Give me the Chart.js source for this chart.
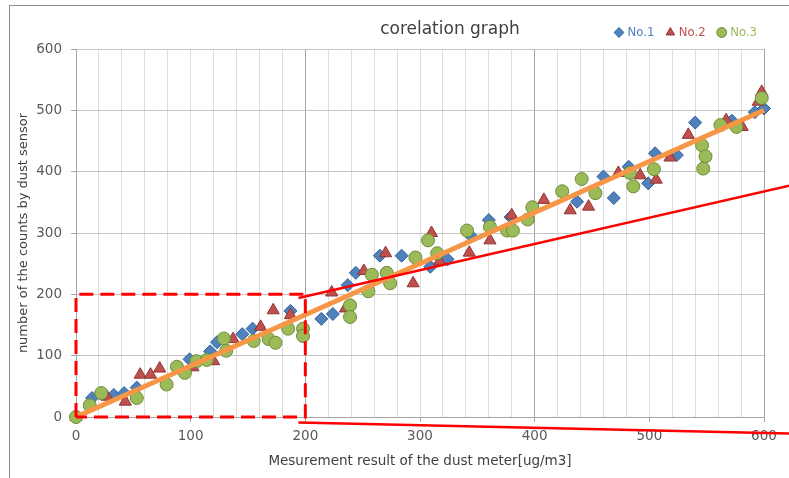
<!DOCTYPE html>
<html>
<head>
<meta charset="utf-8">
<script src="https://cdn.jsdelivr.net/npm/chart.js@4.4.0/dist/chart.umd.min.js"></script>
<style>
    html, body { margin: 0; padding: 0; background: #fff; }
    #wrap { position: relative; width: 789px; height: 478px; overflow: hidden; }
    #frame { position: absolute; left: 9px; top: 5px; width: 800px; height: 500px;
             border-left: 1px solid #8c8c8c; border-top: 1px solid #8c8c8c; }
    canvas { position: absolute; left: 0; top: 0; }
</style>
</head>
<body>
<div id="wrap">
    <div id="frame"></div>
    <canvas id="dustChart" width="789" height="478"></canvas>
</div>
<script>
// Chart texts
const chartTitle = 'corelation graph';
const xTitle = 'Mesurement result of the dust meter[ug/m3]';
const yTitle = 'number of the counts by dust sensor';
const seriesNames = ['No.1', 'No.2', 'No.3'];

// No.1 (blue diamonds)
const no1X = [14, 33, 42, 53, 99, 117, 123, 145, 154, 187, 214, 224, 237, 244, 265, 284, 309, 324, 344, 360, 379, 437, 460, 469, 482, 499, 505, 524, 540, 572, 592, 600];
const no1Y = [31, 36, 39, 48, 94, 107, 122, 135, 144, 173, 160, 168, 215, 235, 263, 263, 245, 257, 296, 321, 326, 351, 392, 357, 408, 381, 430, 427, 480, 483, 497, 503];

// No.2 (red triangles)
const no2X = [0, 27, 43, 56, 65, 73, 102, 120, 137, 161, 172, 187, 223, 235, 251, 270, 274, 294, 310, 317, 343, 361, 380, 408, 431, 447, 473, 492, 506, 518, 534, 567, 581, 595, 598];
const no2Y = [0, 33, 25, 69, 69, 79, 81, 91, 127, 147, 174, 166, 203, 177, 238, 267, 221, 218, 300, 254, 268, 288, 329, 354, 337, 343, 398, 394, 387, 423, 460, 484, 473, 514, 530];

// No.3 (green circles)
const no3X = [0, 12, 22, 53, 79, 88, 95, 105, 114, 129, 131, 155, 168, 174, 185, 198, 198, 239, 239, 255, 258, 271, 274, 296, 307, 315, 341, 361, 376, 381, 394, 398, 424, 441, 453, 483, 486, 504, 546, 549, 547, 562, 576, 598];
const no3Y = [0, 19, 39, 31, 53, 82, 72, 91, 93, 128, 108, 124, 127, 121, 144, 144, 132, 182, 163, 205, 232, 235, 218, 260, 288, 267, 304, 310, 304, 304, 322, 342, 368, 388, 365, 398, 376, 404, 443, 425, 405, 476, 473, 520];

// approximate line
const trendX = [0, 600];
const trendY = [0, 500];

// red zoom marks (dashed box 0-200 and the two lines leading out of it)
const boxX = [0, 0, 200, 200, 0];
const boxY = [0, 200, 200, 0, 0];
const zoomTopX = [194, 622];
const zoomTopY = [194, 377];
const zoomBottomX = [194, 622];
const zoomBottomY = [-9, -27];

// axis ticks
const xMin = 0, xMax = 600, xStep = 20, xLabelStep = 100, xMajorStep = 200;
const yMin = 0, yMax = 600, yStep = 100;

function toPoints(xs, ys) {
    return xs.map(function (x, i) { return {x: x, y: ys[i]}; });
}

const seriesColors = ['#4f81bd', '#c0504d', '#9bbb59'];
const seriesBorders = ['#2f5f98', '#8e3533', '#6f8a3a'];

// title sits in the legend row, a bit right of the plot centre
const titlePlugin = {
    id: 'graphTitle',
    afterDraw(chart) {
        const ctx = chart.ctx;
        ctx.save();
        ctx.font = '17px "DejaVu Sans"';
        ctx.fillStyle = '#404040';
        ctx.textAlign = 'center';
        ctx.textBaseline = 'middle';
        ctx.fillText(chartTitle, 450, 30);
        ctx.restore();
    }
};

const tickFont = {family: 'DejaVu Sans', size: 13.5};
const titleFont = {family: 'DejaVu Sans', size: 13.5};

document.addEventListener('DOMContentLoaded', function () {
    const canvas = document.getElementById('dustChart');
    new Chart(canvas, {
        type: 'scatter',
        data: {
            datasets: [{
                    label: seriesNames[0],
                    data: toPoints(no1X, no1Y),
                    pointStyle: 'rectRot',
                    pointRadius: 6.5,
                    backgroundColor: seriesColors[0],
                    borderColor: seriesBorders[0],
                    borderWidth: 1,
                    clip: false,
                    order: 4
                }, {
                    label: seriesNames[1],
                    data: toPoints(no2X, no2Y),
                    pointStyle: 'triangle',
                    pointRadius: 7,
                    backgroundColor: seriesColors[1],
                    borderColor: seriesBorders[1],
                    borderWidth: 1,
                    clip: false,
                    order: 3
                }, {
                    label: seriesNames[2],
                    data: toPoints(no3X, no3Y),
                    pointStyle: 'circle',
                    pointRadius: 6.5,
                    backgroundColor: seriesColors[2],
                    borderColor: seriesBorders[2],
                    borderWidth: 1,
                    clip: false,
                    order: 2
                }, {
                    label: 'trend',
                    type: 'line',
                    data: toPoints(trendX, trendY),
                    borderColor: '#f79646',
                    borderWidth: 5,
                    pointRadius: 0,
                    clip: false,
                    order: 1
                }, {
                    label: 'box',
                    type: 'line',
                    data: toPoints(boxX, boxY),
                    borderColor: '#ff0000',
                    borderWidth: 3,
                    borderDash: [14, 7],
                    pointRadius: 0,
                    clip: false,
                    order: 0
                }, {
                    label: 'zoomTop',
                    type: 'line',
                    data: toPoints(zoomTopX, zoomTopY),
                    borderColor: '#ff0000',
                    borderWidth: 2.5,
                    pointRadius: 0,
                    clip: false,
                    order: 0
                }, {
                    label: 'zoomBottom',
                    type: 'line',
                    data: toPoints(zoomBottomX, zoomBottomY),
                    borderColor: '#ff0000',
                    borderWidth: 2.5,
                    pointRadius: 0,
                    clip: false,
                    order: 0
                }]
        },
        options: {
            responsive: false,
            animation: false,
            devicePixelRatio: 1,
            layout: {padding: {left: 10, right: 18, top: 12, bottom: 4}},
            scales: {
                x: {
                    type: 'linear',
                    min: xMin,
                    max: xMax,
                    afterFit: function (scale) { scale.height = 57; },
                    ticks: {
                        stepSize: xStep,
                        autoSkip: false,
                        maxRotation: 0,
                        padding: 6,
                        color: '#595959',
                        font: tickFont,
                        callback: function (v) { return v % xLabelStep === 0 ? v : ''; }
                    },
                    grid: {
                        tickLength: 5,
                        color: function (c) { return c.tick.value % xMajorStep === 0 ? '#a6a6a6' : '#dcdcdc'; },
                        tickColor: function (c) { return c.tick.value % xLabelStep === 0 ? '#a6a6a6' : 'rgba(0,0,0,0)'; }
                    },
                    border: {color: '#a6a6a6'},
                    title: {display: true, text: xTitle, color: '#404040', font: titleFont, padding: {top: 4, bottom: 4}}
                },
                y: {
                    min: yMin,
                    max: yMax,
                    afterFit: function (scale) { scale.width = 66; },
                    ticks: {stepSize: yStep, padding: 9, color: '#595959', font: tickFont},
                    grid: {tickLength: 5, color: '#c4c4c4', tickColor: '#a6a6a6'},
                    border: {color: '#a6a6a6'},
                    title: {display: true, text: yTitle, color: '#404040', font: {family: 'DejaVu Sans', size: 13}, padding: {top: 6, bottom: 4}}
                },
                // empty strip on the right so the legend can reach past the plot edge
                yRight: {
                    position: 'right',
                    min: yMin,
                    max: yMax,
                    afterFit: function (scale) { scale.width = 7; },
                    ticks: {display: false},
                    grid: {display: false, drawTicks: false},
                    border: {display: false}
                }
            },
            plugins: {
                title: {display: false},
                tooltip: {enabled: false},
                legend: {
                    position: 'top',
                    align: 'end',
                    labels: {
                        usePointStyle: true,
                        boxWidth: 4,
                        boxHeight: 7,
                        padding: 14,
                        font: {family: 'DejaVu Sans Condensed', size: 13},
                        filter: function (item) { return item.datasetIndex < 3; },
                        sort: function (a, b) { return a.datasetIndex - b.datasetIndex; },
                        generateLabels: function (chart) {
                            const items = Chart.defaults.plugins.legend.labels.generateLabels(chart);
                            items.forEach(function (item) {
                                if (item.datasetIndex < 3) {
                                    item.fontColor = seriesColors[item.datasetIndex];
                                }
                            });
                            return items;
                        }
                    }
                }
            }
        },
        plugins: [titlePlugin]
    });
});
</script>
</body>
</html>
